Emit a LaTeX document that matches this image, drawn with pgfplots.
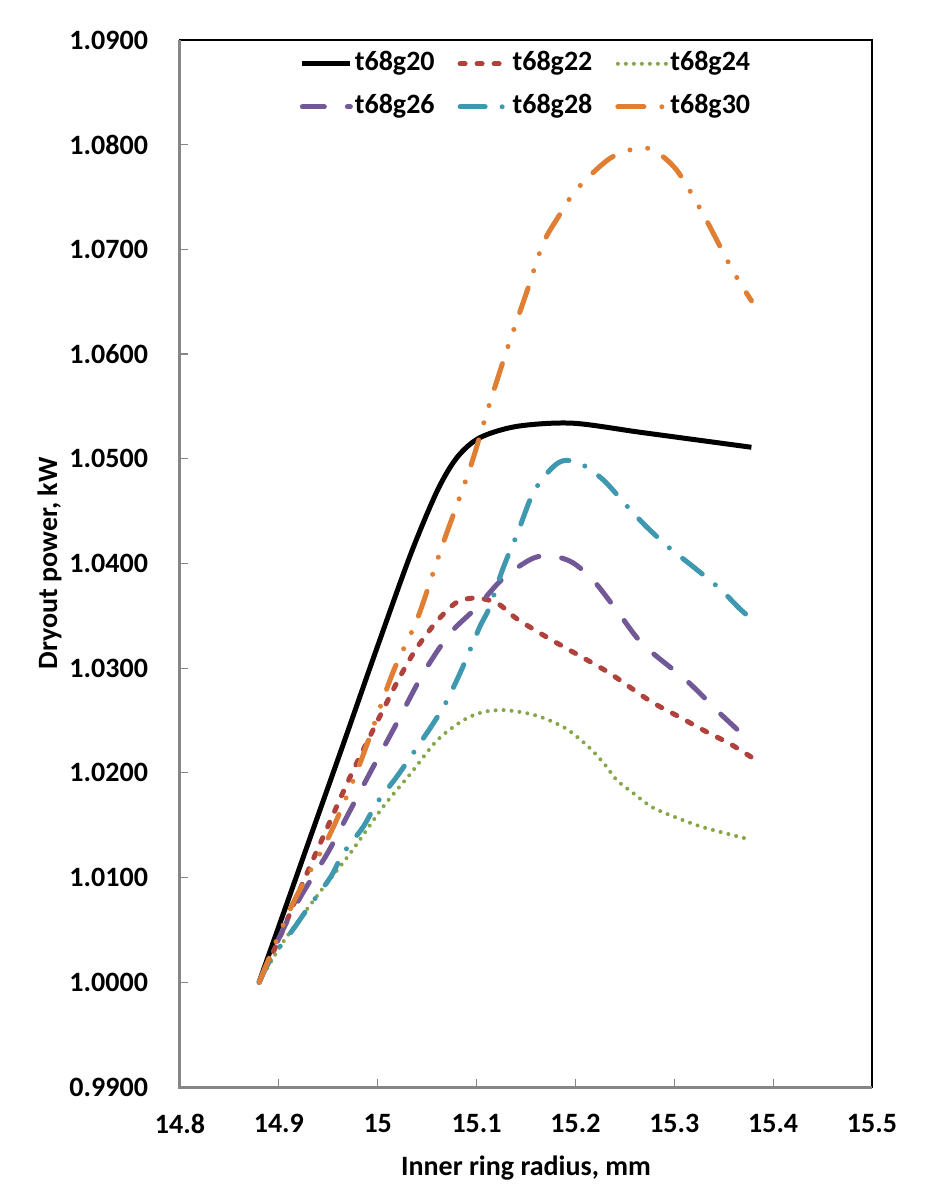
\documentclass[border=0pt]{standalone}
\usepackage{pgfplots}
\pgfplotsset{compat=1.18}
\usepackage{fontspec}
\setmainfont{Carlito}
\definecolor{cred}{RGB}{176,66,62}
\definecolor{cgreen}{RGB}{134,166,74}
\definecolor{cpurple}{RGB}{114,88,150}
\definecolor{cteal}{RGB}{62,152,176}
\definecolor{corange}{RGB}{224,126,52}
\definecolor{axgray}{RGB}{134,134,134}
\begin{document}
\begin{tikzpicture}
\begin{axis}[
  scale only axis, width=346pt, height=523.5pt,
  xmin=14.8, xmax=15.5, ymin=0.99, ymax=1.09,
  xtick={14.8,14.9,15,15.1,15.2,15.3,15.4,15.5},
  xticklabels={14.8,14.9,15,15.1,15.2,15.3,15.4,15.5},
  ytick={0.99,1.00,1.01,1.02,1.03,1.04,1.05,1.06,1.07,1.08,1.09},
  yticklabels={0.9900,1.0000,1.0100,1.0200,1.0300,1.0400,1.0500,1.0600,1.0700,1.0800,1.0900},
  tick align=inside, xtick pos=bottom, ytick pos=left,
  major tick length=4pt,
  tick style={axgray, line width=0.6pt},
  axis line style={black, line width=0.8pt},
  tick label style={font=\fontsize{14}{17}\selectfont\bfseries},
  yticklabel style={xshift=-12.5pt},
  xticklabel style={yshift=-10pt},
  xlabel={Inner ring radius, mm},
  ylabel={Dryout power, kW},
  label style={font=\fontsize{14}{17}\selectfont\bfseries},
  xlabel style={at={(axis description cs:0.5,-0.0841)}, anchor=base},
  ylabel style={at={(axis description cs:-0.1777,0.5)}, anchor=base},
  legend columns=3,
  legend style={at={(axis description cs:0.5,1.002)}, anchor=north, draw=none, fill=none,
    font=\fontsize{14}{17}\selectfont\bfseries,
    nodes={text height=10.5pt, text depth=4pt, inner ysep=3.5pt, inner xsep=1pt},
    /tikz/every even column/.append style={column sep=10.5pt}, row sep=0pt},
  legend image code/.code={\draw[#1] (0pt,0pt) -- (24pt,0pt);},
  extra description/.code={\draw[color=axgray, line width=1.5pt] (axis description cs:0,1) -- (axis description cs:0,0) -- (axis description cs:1,0);},
]
\addplot[black, line width=2.5pt, smooth] coordinates {
(14.880,1.0000) (14.929,1.0131) (14.965,1.0227) (14.998,1.0316) (15.033,1.0408)
(15.060,1.0469) (15.080,1.0501) (15.103,1.0520) (15.141,1.0531) (15.197,1.0534)
(15.268,1.0525) (15.378,1.0511)};
\addlegendentry{t68g20}
\addplot[cred, line width=2.5pt, line cap=round, dash pattern=on 2.5pt off 6pt, smooth] coordinates {
(14.880,1.0000) (14.901,1.0043) (14.921,1.0088) (14.942,1.0133) (14.972,1.0196)
(14.999,1.0248) (15.022,1.0291) (15.040,1.0320) (15.060,1.0345) (15.080,1.0363)
(15.100,1.0367) (15.121,1.0362) (15.141,1.0347) (15.174,1.0328) (15.204,1.0312)
(15.235,1.0295) (15.275,1.0269) (15.306,1.0253) (15.333,1.0239) (15.356,1.0228)
(15.378,1.0215)};
\addlegendentry{t68g22}
\addplot[cgreen, line width=2pt, line cap=round, dash pattern=on 0pt off 4pt, smooth] coordinates {
(14.880,1.0000) (14.904,1.0038) (14.939,1.0083) (14.972,1.0123) (15.005,1.0167)
(15.033,1.0199) (15.060,1.0231) (15.086,1.0250) (15.106,1.0258) (15.127,1.0260)
(15.151,1.0257) (15.169,1.0252) (15.191,1.0242) (15.212,1.0226) (15.228,1.0210)
(15.242,1.0193) (15.258,1.0181) (15.278,1.0167) (15.303,1.0157) (15.326,1.0149)
(15.349,1.0143) (15.378,1.0136)};
\addlegendentry{t68g24}
\addplot[cpurple, line width=2.5pt, line cap=round, dash pattern=on 11pt off 11.5pt, smooth] coordinates {
(14.880,1.0000) (14.904,1.0050) (14.924,1.0085) (14.949,1.0123) (14.972,1.0164)
(14.995,1.0205) (15.019,1.0247) (15.046,1.0295) (15.073,1.0333) (15.100,1.0358)
(15.127,1.0386) (15.157,1.0405) (15.177,1.0407) (15.197,1.0401) (15.218,1.0384)
(15.242,1.0355) (15.268,1.0323) (15.309,1.0291) (15.326,1.0276) (15.346,1.0257)
(15.378,1.0229)};
\addlegendentry{t68g26}
\addplot[cteal, line width=2.5pt, line cap=round, dash pattern=on 12.5pt off 8.5pt on 0pt off 8.5pt, smooth] coordinates {
(14.880,1.0000) (14.891,1.0021) (14.914,1.0050) (14.928,1.0069) (14.952,1.0100)
(14.965,1.0123) (14.985,1.0148) (14.999,1.0171) (15.019,1.0196) (15.036,1.0219)
(15.056,1.0247) (15.070,1.0269) (15.086,1.0301) (15.103,1.0339) (15.113,1.0358)
(15.127,1.0396) (15.141,1.0428) (15.157,1.0467) (15.174,1.0489) (15.187,1.0498)
(15.204,1.0496) (15.228,1.0480) (15.252,1.0455) (15.272,1.0435) (15.295,1.0415)
(15.319,1.0397) (15.346,1.0376) (15.366,1.0357) (15.378,1.0347)};
\addlegendentry{t68g28}
\addplot[corange, line width=2.5pt, line cap=round, dash pattern=on 13pt off 9pt on 0pt off 9pt on 0pt off 9pt, smooth] coordinates {
(14.880,1.0000) (14.914,1.0075) (14.952,1.0142) (14.982,1.0209) (15.015,1.0295)
(15.040,1.0347) (15.066,1.0419) (15.093,1.0490) (15.111,1.0546) (15.131,1.0605)
(15.151,1.0660) (15.167,1.0705) (15.182,1.0730) (15.201,1.0757) (15.235,1.0787)
(15.265,1.0797) (15.282,1.0793) (15.303,1.0775) (15.329,1.0734) (15.359,1.0680)
(15.378,1.0651)};
\addlegendentry{t68g30}
\end{axis}
\pgfresetboundingbox
\path ([xshift=-90pt,yshift=-58pt]current axis.south west) rectangle ([xshift=29pt,yshift=20pt]current axis.north east);
\end{tikzpicture}
\end{document}
